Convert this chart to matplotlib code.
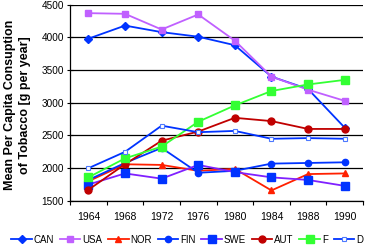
import numpy as np
import matplotlib
matplotlib.use("Agg")
import matplotlib.pyplot as plt

plt.rcParams['font.family'] = ['Liberation Sans', 'DejaVu Sans']

years = ['1964', '1968', '1972', '1976', '1980', '1984', '1988', '1990']

can = [3980, 4180, 4080, 4010, 3880, 3400, 3210, 2620]
usa = [4370, 4360, 4120, 4350, 3950, 3400, 3200, 3030]
nor = [1800, 2060, 2050, 1960, 1990, 1660, 1910, 1920]
fin = [1820, 2080, 2310, 1930, 1960, 2070, 2080, 2090]
swe = [1750, 1920, 1840, 2050, 1940, 1860, 1820, 1730]
aut = [1670, 2060, 2420, 2560, 2770, 2720, 2600, 2600]
fra = [1860, 2150, 2330, 2710, 2960, 3180, 3280, 3350]
deu = [2000, 2250, 2650, 2550, 2570, 2450, 2460, 2450]

x = np.arange(len(years))

fig = plt.figure(figsize=(3.67, 2.45), dpi=100)
ax = fig.add_axes([0.191, 0.180, 0.798, 0.801])

# series: line colour, marker, marker colour, marker size
ax.plot(x, can, color='#0033ff', lw=1.3, marker='D', ms=4.0, mfc='#0033ff', mec='#0033ff', label='CAN')
ax.plot(x, usa, color='#c060ff', lw=1.3, marker='s', ms=5.0, mfc='#c060ff', mec='#c060ff', label='USA')
ax.plot(x, nor, color='#ff2000', lw=1.3, marker='^', ms=4.0, mfc='#ff2000', mec='#ff2000', label='NOR')
ax.plot(x, fin, color='#0033ff', lw=1.3, marker='o', ms=4.5, mfc='#0033ff', mec='#0033ff', label='FIN')
ax.plot(x, swe, color='#8020ff', lw=1.3, marker='s', ms=5.5, mfc='#0033ff', mec='#0033ff', label='SWE')
ax.plot(x, aut, color='#c00000', lw=1.3, marker='o', ms=5.0, mfc='#c00000', mec='#c00000', label='AUT')
ax.plot(x, fra, color='#33ff33', lw=1.3, marker='s', ms=5.5, mfc='#33ff33', mec='#33ff33', label='F')
ax.plot(x, deu, color='#0033ff', lw=1.3, marker='s', ms=3.0, mfc='white', mec='#4d79ff', mew=0.8, label='D')

ax.set_xlim(-0.5, len(years) - 0.5)
ax.set_ylim(1500, 4500)
ax.set_yticks(np.arange(1500, 4501, 500))
ax.yaxis.grid(True, color='black', lw=0.9)
ax.set_axisbelow(True)

ax.set_xticks(x)
ax.set_xticklabels(years)
ax.set_xticks(np.arange(-0.5, len(years)), minor=True)
ax.tick_params(axis='x', which='major', length=0, labelsize=7.5, pad=8)
ax.tick_params(axis='x', which='minor', length=3, width=0.8)
ax.tick_params(axis='y', direction='inout', length=5, width=0.8, labelsize=7.2, pad=2)

for s in ['top', 'right']:
    ax.spines[s].set_visible(False)
ax.spines['left'].set_linewidth(0.9)
ax.spines['bottom'].set_linewidth(0.9)

ax.set_ylabel('Mean Per Capita Consuption\nof Tobacco [g per year]', fontsize=9,
              fontweight='bold', linespacing=1.3)
ax.yaxis.set_label_coords(-0.135, 0.49)

fig.legend(loc='lower center', bbox_to_anchor=(0.51, -0.015), ncol=8, frameon=False,
           fontsize=7, handlelength=2.1, handletextpad=0.2, columnspacing=0.6,
           borderaxespad=0.2, borderpad=0.2)

fig.savefig('out.png', dpi=100)
